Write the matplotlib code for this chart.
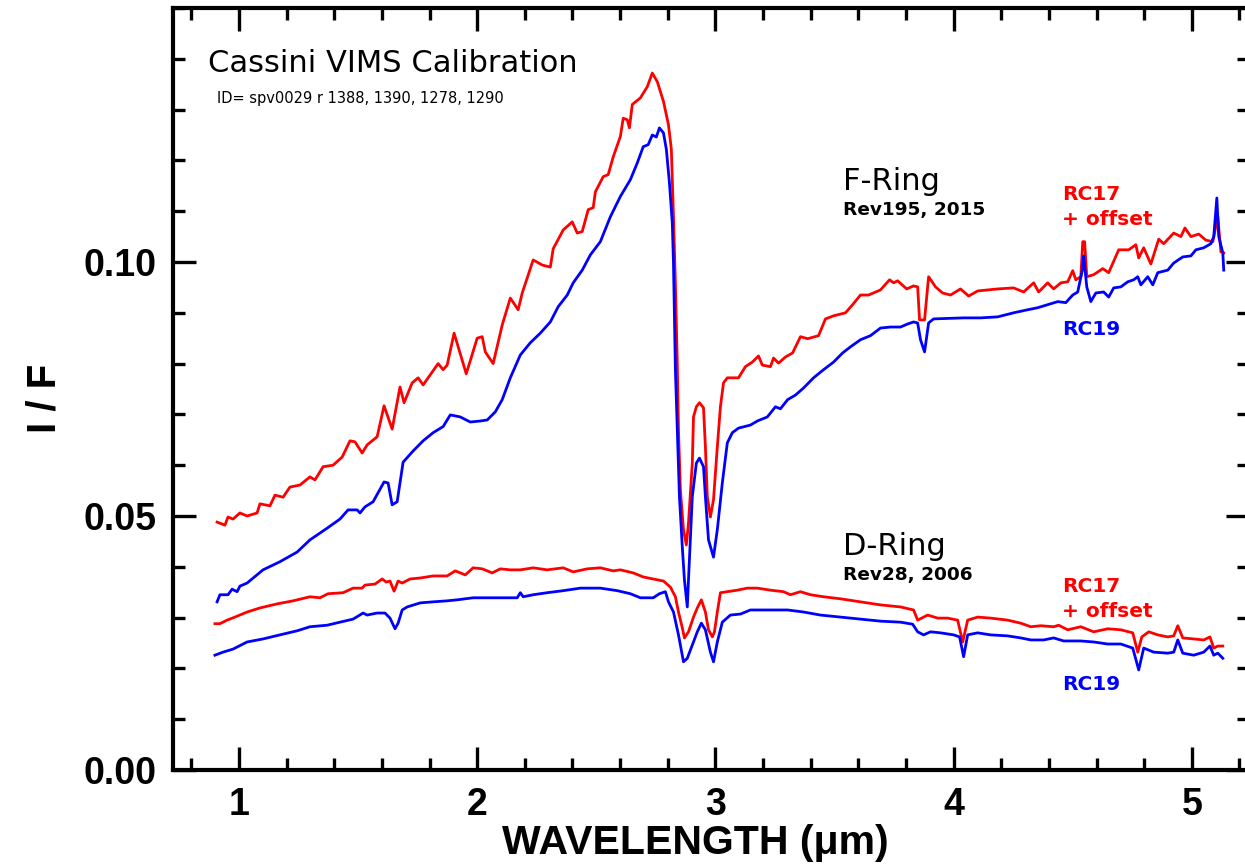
import matplotlib
matplotlib.use("Agg")
import matplotlib.pyplot as plt
from matplotlib.ticker import MultipleLocator, FixedLocator

# F-ring, Rev195 2015 : RC17 + offset (red) and RC19 (blue)
f_rc17_wl = [0.908, 0.941, 0.954, 0.975, 1.004, 1.034, 1.076, 1.088, 1.130, 1.151, 1.185, 1.214, 1.256,
             1.298, 1.319, 1.353, 1.395, 1.433, 1.466, 1.487, 1.517, 1.538, 1.580, 1.609, 1.643, 1.676,
             1.693, 1.727, 1.752, 1.773, 1.836, 1.857, 1.874, 1.903, 1.954, 2.000, 2.021, 2.034, 2.067,
             2.105, 2.139, 2.172, 2.189, 2.235, 2.273, 2.307, 2.319, 2.361, 2.399, 2.420, 2.441, 2.466,
             2.487, 2.496, 2.529, 2.550, 2.571, 2.601, 2.613, 2.630, 2.639, 2.651, 2.685, 2.714, 2.735,
             2.756, 2.782, 2.803, 2.815, 2.824, 2.832, 2.840, 2.845, 2.853, 2.866, 2.878, 2.887, 2.903,
             2.908, 2.920, 2.933, 2.950, 2.958, 2.966, 2.979, 2.992, 3.008, 3.021, 3.034, 3.050, 3.097,
             3.126, 3.155, 3.181, 3.197, 3.231, 3.244, 3.265, 3.294, 3.324, 3.357, 3.387, 3.433, 3.462,
             3.496, 3.546, 3.576, 3.609, 3.643, 3.693, 3.731, 3.748, 3.765, 3.803, 3.832, 3.849, 3.857,
             3.878, 3.895, 3.924, 3.954, 3.987, 4.029, 4.063, 4.101, 4.185, 4.252, 4.294, 4.336, 4.357,
             4.395, 4.420, 4.450, 4.479, 4.500, 4.513, 4.534, 4.542, 4.550, 4.559, 4.588, 4.626, 4.651,
             4.693, 4.735, 4.765, 4.777, 4.798, 4.828, 4.861, 4.882, 4.924, 4.954, 4.971, 4.996, 5.029,
             5.059, 5.088, 5.109, 5.122, 5.134]
f_rc17_if = [0.0488, 0.0482, 0.0498, 0.0494, 0.0506, 0.0500, 0.0506, 0.0524, 0.0520, 0.0541, 0.0537, 0.0557, 0.0561,
             0.0577, 0.0571, 0.0597, 0.0600, 0.0616, 0.0648, 0.0646, 0.0624, 0.0640, 0.0656, 0.0717, 0.0671, 0.0754,
             0.0723, 0.0762, 0.0772, 0.0758, 0.0800, 0.0788, 0.0797, 0.0860, 0.0780, 0.0850, 0.0853, 0.0823, 0.0800,
             0.0876, 0.0929, 0.0906, 0.0939, 0.1004, 0.0994, 0.0990, 0.1026, 0.1063, 0.1079, 0.1057, 0.1060, 0.1103,
             0.1107, 0.1138, 0.1168, 0.1172, 0.1207, 0.1247, 0.1283, 0.1280, 0.1264, 0.1310, 0.1323, 0.1345, 0.1372,
             0.1355, 0.1316, 0.1270, 0.1222, 0.1089, 0.0957, 0.0800, 0.0669, 0.0551, 0.0473, 0.0443, 0.0486, 0.0604,
             0.0695, 0.0715, 0.0723, 0.0713, 0.0636, 0.0538, 0.0498, 0.0532, 0.0636, 0.0715, 0.0762, 0.0772, 0.0772,
             0.0794, 0.0803, 0.0815, 0.0797, 0.0794, 0.0811, 0.0801, 0.0813, 0.0821, 0.0853, 0.0849, 0.0855, 0.0888,
             0.0894, 0.0900, 0.0916, 0.0935, 0.0935, 0.0945, 0.0965, 0.0959, 0.0963, 0.0947, 0.0953, 0.0951, 0.0886,
             0.0886, 0.0971, 0.0951, 0.0939, 0.0935, 0.0947, 0.0933, 0.0943, 0.0947, 0.0949, 0.0941, 0.0959, 0.0941,
             0.0959, 0.0947, 0.0959, 0.0961, 0.0983, 0.0965, 0.0971, 0.1040, 0.1040, 0.0971, 0.0975, 0.0987, 0.0979,
             0.1024, 0.1024, 0.1034, 0.1008, 0.1028, 0.0996, 0.1045, 0.1036, 0.1057, 0.1050, 0.1067, 0.1050, 0.1055,
             0.1043, 0.1040, 0.1089, 0.1020, 0.1018]

f_rc19_wl = [0.908, 0.920, 0.954, 0.971, 0.992, 1.004, 1.034, 1.101, 1.172, 1.244, 1.298, 1.370, 1.424,
             1.458, 1.496, 1.508, 1.529, 1.563, 1.609, 1.626, 1.643, 1.664, 1.689, 1.731, 1.773, 1.815,
             1.857, 1.887, 1.929, 1.971, 2.013, 2.042, 2.076, 2.105, 2.139, 2.181, 2.223, 2.265, 2.307,
             2.340, 2.378, 2.403, 2.441, 2.475, 2.517, 2.559, 2.601, 2.643, 2.672, 2.697, 2.718, 2.735,
             2.752, 2.765, 2.782, 2.794, 2.807, 2.819, 2.824, 2.832, 2.840, 2.849, 2.861, 2.870, 2.882,
             2.887, 2.903, 2.920, 2.933, 2.950, 2.958, 2.971, 2.992, 3.008, 3.029, 3.050, 3.071, 3.097,
             3.147, 3.176, 3.218, 3.252, 3.273, 3.303, 3.336, 3.370, 3.412, 3.454, 3.496, 3.534, 3.567,
             3.609, 3.651, 3.693, 3.735, 3.777, 3.807, 3.832, 3.849, 3.861, 3.878, 3.895, 3.916, 4.042,
             4.113, 4.185, 4.252, 4.311, 4.353, 4.395, 4.437, 4.471, 4.500, 4.521, 4.542, 4.546, 4.559,
             4.576, 4.597, 4.630, 4.651, 4.672, 4.702, 4.731, 4.756, 4.773, 4.786, 4.815, 4.836, 4.857,
             4.899, 4.924, 4.962, 4.996, 5.017, 5.050, 5.080, 5.092, 5.105, 5.113, 5.130, 5.134]
f_rc19_if = [0.0331, 0.0345, 0.0345, 0.0356, 0.0351, 0.0362, 0.0368, 0.0394, 0.0410, 0.0429, 0.0453, 0.0476, 0.0494,
             0.0512, 0.0512, 0.0506, 0.0518, 0.0528, 0.0567, 0.0565, 0.0522, 0.0528, 0.0606, 0.0628, 0.0648, 0.0664,
             0.0676, 0.0699, 0.0695, 0.0685, 0.0687, 0.0689, 0.0705, 0.0729, 0.0772, 0.0817, 0.0841, 0.0860, 0.0882,
             0.0912, 0.0935, 0.0959, 0.0984, 0.1014, 0.1040, 0.1089, 0.1129, 0.1162, 0.1195, 0.1227, 0.1231, 0.1250,
             0.1246, 0.1264, 0.1254, 0.1222, 0.1156, 0.1077, 0.0998, 0.0788, 0.0669, 0.0538, 0.0439, 0.0374, 0.0321,
             0.0374, 0.0538, 0.0604, 0.0614, 0.0597, 0.0538, 0.0453, 0.0419, 0.0473, 0.0565, 0.0644, 0.0664, 0.0673,
             0.0679, 0.0687, 0.0695, 0.0715, 0.0711, 0.0729, 0.0738, 0.0752, 0.0772, 0.0788, 0.0803, 0.0821, 0.0833,
             0.0847, 0.0855, 0.0870, 0.0872, 0.0872, 0.0878, 0.0882, 0.0880, 0.0847, 0.0823, 0.0880, 0.0888, 0.0890,
             0.0890, 0.0892, 0.0900, 0.0906, 0.0910, 0.0916, 0.0922, 0.0920, 0.0935, 0.0941, 0.0988, 0.1012, 0.0951,
             0.0922, 0.0939, 0.0941, 0.0931, 0.0949, 0.0951, 0.0961, 0.0965, 0.0971, 0.0955, 0.0971, 0.0955, 0.0979,
             0.0984, 0.0998, 0.1010, 0.1012, 0.1024, 0.1028, 0.1036, 0.1050, 0.1126, 0.1050, 0.1018, 0.0984]

# D-ring, Rev28 2006 : RC17 + offset (red) and RC19 (blue)
d_rc17_wl = [0.899, 0.920, 0.950, 0.983, 1.034, 1.088, 1.160, 1.227, 1.298, 1.340, 1.374, 1.437, 1.479,
             1.517, 1.529, 1.571, 1.601, 1.618, 1.634, 1.651, 1.668, 1.685, 1.718, 1.761, 1.815, 1.874,
             1.908, 1.950, 1.983, 2.021, 2.063, 2.097, 2.139, 2.181, 2.235, 2.294, 2.361, 2.403, 2.462,
             2.517, 2.571, 2.601, 2.655, 2.697, 2.739, 2.782, 2.811, 2.832, 2.845, 2.861, 2.870, 2.887,
             2.908, 2.924, 2.941, 2.958, 2.971, 2.987, 2.996, 3.008, 3.021, 3.050, 3.092, 3.134, 3.176,
             3.231, 3.286, 3.315, 3.357, 3.399, 3.454, 3.525, 3.609, 3.693, 3.777, 3.832, 3.849, 3.891,
             3.933, 3.975, 4.017, 4.038, 4.059, 4.101, 4.155, 4.227, 4.282, 4.324, 4.366, 4.420, 4.441,
             4.479, 4.534, 4.588, 4.647, 4.702, 4.752, 4.773, 4.790, 4.819, 4.857, 4.899, 4.924, 4.941,
             4.962, 5.008, 5.050, 5.076, 5.092, 5.109, 5.130]
d_rc17_if = [0.0288, 0.0288, 0.0295, 0.0301, 0.0311, 0.0319, 0.0327, 0.0333, 0.0341, 0.0339, 0.0347, 0.0349, 0.0358,
             0.0358, 0.0364, 0.0366, 0.0376, 0.0370, 0.0372, 0.0352, 0.0372, 0.0368, 0.0376, 0.0378, 0.0382, 0.0382,
             0.0392, 0.0384, 0.0398, 0.0396, 0.0388, 0.0396, 0.0394, 0.0394, 0.0398, 0.0394, 0.0398, 0.0390, 0.0396,
             0.0398, 0.0392, 0.0394, 0.0388, 0.0380, 0.0376, 0.0372, 0.0360, 0.0341, 0.0311, 0.0280, 0.0260, 0.0272,
             0.0301, 0.0319, 0.0335, 0.0311, 0.0276, 0.0262, 0.0272, 0.0311, 0.0349, 0.0351, 0.0354, 0.0358, 0.0358,
             0.0354, 0.0351, 0.0345, 0.0351, 0.0345, 0.0341, 0.0337, 0.0331, 0.0325, 0.0321, 0.0315, 0.0295, 0.0305,
             0.0299, 0.0299, 0.0295, 0.0252, 0.0295, 0.0301, 0.0299, 0.0295, 0.0289, 0.0282, 0.0284, 0.0282, 0.0285,
             0.0276, 0.0282, 0.0272, 0.0278, 0.0276, 0.0270, 0.0232, 0.0262, 0.0272, 0.0266, 0.0262, 0.0264, 0.0284,
             0.0260, 0.0258, 0.0256, 0.0262, 0.0240, 0.0244, 0.0244]

d_rc19_wl = [0.899, 0.933, 0.975, 1.034, 1.101, 1.172, 1.244, 1.298, 1.370, 1.424, 1.479, 1.521, 1.538,
             1.580, 1.613, 1.634, 1.655, 1.668, 1.685, 1.706, 1.761, 1.815, 1.874, 1.916, 1.983, 2.055,
             2.168, 2.181, 2.193, 2.235, 2.294, 2.361, 2.433, 2.517, 2.588, 2.643, 2.685, 2.739, 2.765,
             2.790, 2.803, 2.824, 2.845, 2.866, 2.882, 2.903, 2.924, 2.941, 2.958, 2.979, 2.992, 3.008,
             3.029, 3.063, 3.105, 3.147, 3.218, 3.303, 3.370, 3.441, 3.525, 3.609, 3.693, 3.777, 3.828,
             3.849, 3.874, 3.903, 3.945, 4.000, 4.025, 4.042, 4.059, 4.101, 4.155, 4.227, 4.282, 4.324,
             4.378, 4.420, 4.462, 4.534, 4.588, 4.647, 4.702, 4.752, 4.777, 4.798, 4.840, 4.899, 4.924,
             4.941, 4.962, 5.008, 5.050, 5.076, 5.092, 5.109, 5.130]
d_rc19_if = [0.0226, 0.0232, 0.0238, 0.0252, 0.0258, 0.0266, 0.0274, 0.0282, 0.0285, 0.0291, 0.0297, 0.0309, 0.0305,
             0.0309, 0.0309, 0.0299, 0.0278, 0.0289, 0.0315, 0.0321, 0.0329, 0.0331, 0.0333, 0.0335, 0.0339, 0.0339,
             0.0339, 0.0349, 0.0341, 0.0345, 0.0349, 0.0353, 0.0358, 0.0358, 0.0353, 0.0347, 0.0339, 0.0339, 0.0347,
             0.0351, 0.0331, 0.0311, 0.0266, 0.0213, 0.0220, 0.0246, 0.0272, 0.0289, 0.0276, 0.0232, 0.0213, 0.0252,
             0.0291, 0.0305, 0.0307, 0.0315, 0.0315, 0.0315, 0.0311, 0.0305, 0.0301, 0.0297, 0.0293, 0.0291, 0.0287,
             0.0272, 0.0266, 0.0272, 0.0270, 0.0266, 0.0262, 0.0223, 0.0266, 0.0270, 0.0266, 0.0264, 0.0260, 0.0256,
             0.0256, 0.0260, 0.0254, 0.0254, 0.0252, 0.0248, 0.0248, 0.0240, 0.0197, 0.0240, 0.0232, 0.0230, 0.0232,
             0.0256, 0.0230, 0.0226, 0.0232, 0.0244, 0.0226, 0.0230, 0.0220]

x_ticks = [1, 2, 3, 4, 5]
y_ticks = [0.00, 0.05, 0.10]

label_font = ["Liberation Sans", "DejaVu Sans"]

fig = plt.figure(figsize=(12.45, 8.67), dpi=100)
ax = fig.add_axes([173 / 1245, 1 - 770 / 867, (1249 - 173) / 1245, (770 - 8) / 867])

ax.plot(f_rc17_wl, f_rc17_if, color="#ff0000", lw=2.0)
ax.plot(f_rc19_wl, f_rc19_if, color="#0000ff", lw=2.0)
ax.plot(d_rc17_wl, d_rc17_if, color="#ff0000", lw=2.0)
ax.plot(d_rc19_wl, d_rc19_if, color="#0000ff", lw=2.0)

ax.set_xlim(0.723, 5.24)
ax.set_ylim(0.0, 0.15)

ax.xaxis.set_major_locator(FixedLocator(x_ticks))
ax.xaxis.set_minor_locator(MultipleLocator(0.2))
ax.yaxis.set_major_locator(FixedLocator(y_ticks))
ax.yaxis.set_minor_locator(MultipleLocator(0.01))
ax.set_xticklabels([str(t) for t in x_ticks])
ax.set_yticklabels(["%.2f" % t for t in y_ticks])

ax.tick_params(which="both", direction="in", top=True, right=True, width=2.4, color="black")
ax.tick_params(which="major", length=16.5, pad=12)
ax.tick_params(which="minor", length=8.5)
for lab in ax.get_xticklabels() + ax.get_yticklabels():
    lab.set_family(label_font)
    lab.set_fontweight("bold")
    lab.set_fontsize(27)

for sp in ax.spines.values():
    sp.set_linewidth(3)

ax.set_xlabel("WAVELENGTH (\u03bcm)", family=label_font, fontweight="bold", fontsize=29.5)
ax.xaxis.set_label_coords((695 - 173) / (1249 - 173), -(843 - 770) / 762, transform=ax.transAxes)
ax.xaxis.label.set_va("center")
ax.set_ylabel("I / F", family=label_font, fontweight="bold", fontsize=29)
ax.yaxis.set_label_coords(-(173 - 45) / (1249 - 173), (770 - 398) / 762, transform=ax.transAxes)
ax.yaxis.label.set_va("center")

# annotations
ax.text(0.870, 0.1374, "Cassini VIMS Calibration", fontsize=22, va="baseline")
ax.text(0.908, 0.1313, "ID= spv0029 r 1388, 1390, 1278, 1290", fontsize=10.5, va="baseline")

ax.text(3.535, 0.1142, "F-Ring", fontsize=22, va="baseline")
ax.text(3.535, 0.1093, "Rev195, 2015", fontsize=13.3, fontweight="bold", va="baseline")
ax.text(4.454, 0.1122, "RC17", fontsize=14.5, fontweight="bold", color="#ff0000", va="baseline")
ax.text(4.454, 0.1073, "+ offset", fontsize=14.5, fontweight="bold", color="#ff0000", va="baseline")
ax.text(4.454, 0.0856, "RC19", fontsize=14.5, fontweight="bold", color="#0000ff", va="baseline")

ax.text(3.535, 0.0423, "D-Ring", fontsize=22, va="baseline")
ax.text(3.535, 0.0374, "Rev28, 2006", fontsize=13.3, fontweight="bold", va="baseline")
ax.text(4.454, 0.0350, "RC17", fontsize=14.5, fontweight="bold", color="#ff0000", va="baseline")
ax.text(4.454, 0.0301, "+ offset", fontsize=14.5, fontweight="bold", color="#ff0000", va="baseline")
ax.text(4.454, 0.0157, "RC19", fontsize=14.5, fontweight="bold", color="#0000ff", va="baseline")

fig.savefig("out.png", dpi=100)
